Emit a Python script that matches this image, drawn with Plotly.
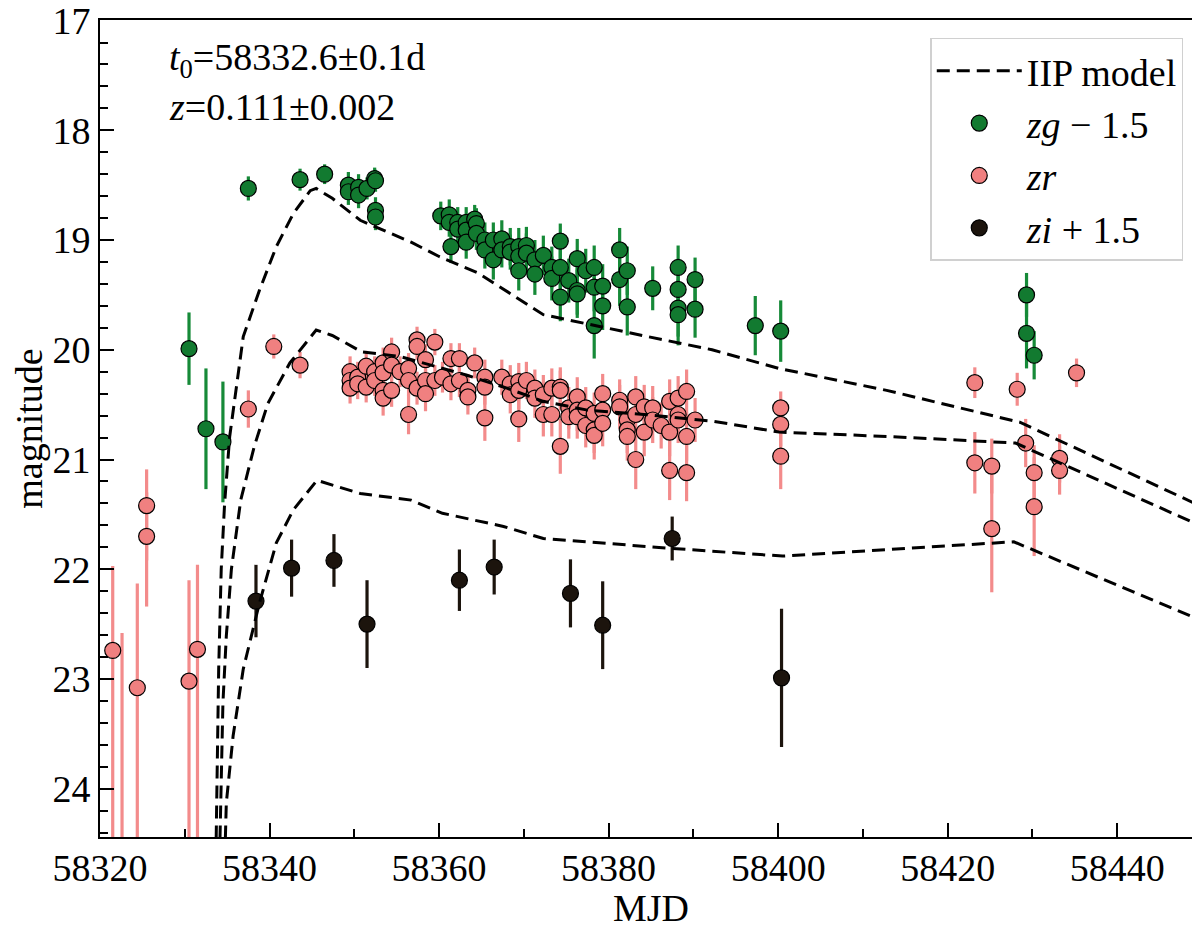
import plotly.graph_objects as go

# IIP model curves (already shifted like the data)
model_g_mjd = [58333.6, 58334.0, 58334.3, 58334.7, 58335.3, 58336.9, 58338.8, 58340.8,
               58342.8, 58344.8, 58345.5, 58347.4, 58350.7, 58356.7, 58360.0, 58364.6,
               58372.3, 58378.3, 58384.6, 58392.2, 58400.1, 58412.8, 58428.5, 58450.0]
model_g_mag = [25.0, 22.91, 22.0, 21.40, 20.79, 19.88, 19.46, 19.06,
               18.76, 18.55, 18.53, 18.62, 18.82, 19.02, 19.15, 19.30,
               19.68, 19.78, 19.88, 20.00, 20.17, 20.37, 20.66, 21.43]

model_r_mjd = [58334.0, 58334.5, 58334.9, 58335.5, 58336.6, 58338.2, 58339.8, 58342.4,
               58345.5, 58347.4, 58350.9, 58355.3, 58363.2, 58368.0, 58372.3, 58377.5,
               58384.2, 58392.2, 58400.1, 58412.8, 58428.0, 58450.0]
model_r_mag = [25.0, 23.22, 22.61, 22.0, 21.37, 20.88, 20.49, 20.12,
               19.82, 19.87, 20.02, 20.06, 20.23, 20.35, 20.47, 20.55,
               20.59, 20.65, 20.75, 20.79, 20.85, 21.61]

model_i_mjd = [58334.6, 58334.9, 58335.7, 58336.9, 58338.8, 58340.8, 58342.8, 58345.6,
               58350.7, 58356.7, 58360.4, 58367.6, 58372.3, 58387.4, 58400.5, 58412.8,
               58427.8, 58450.0]
model_i_mag = [25.0, 24.13, 23.52, 22.91, 22.31, 21.76, 21.46, 21.19,
               21.31, 21.37, 21.49, 21.61, 21.72, 21.81, 21.88, 21.82,
               21.75, 22.47]

# zg - 1.5
g_mjd = [58330.5, 58332.5, 58334.5, 58337.5, 58343.6, 58346.5,
         58349.3, 58349.3, 58350.5, 58350.5, 58351.5, 58352.4, 58352.5, 58352.5, 58352.5,
         58360.2, 58361.2, 58361.2, 58361.4, 58362.2, 58362.2, 58363.2, 58363.2, 58363.2, 58364.2, 58364.4, 58364.4,
         58365.4, 58365.4, 58366.4, 58366.4, 58367.4, 58367.4, 58368.4, 58368.4, 58369.4, 58369.4, 58369.4, 58370.3, 58370.3,
         58371.3, 58371.3, 58372.3, 58373.3, 58373.3, 58374.3, 58374.3, 58374.3, 58375.3, 58376.3, 58376.3, 58376.3, 58377.3,
         58378.3, 58378.3, 58378.3, 58379.3, 58379.3, 58381.3, 58381.3, 58382.2, 58382.2, 58385.2,
         58388.2, 58388.2, 58388.2, 58388.2, 58390.2, 58390.2, 58397.3, 58400.3, 58429.3, 58429.3, 58430.2]
g_mag = [19.99, 20.72, 20.84, 18.53, 18.45, 18.40,
         18.50, 18.56, 18.52, 18.59, 18.53, 18.44, 18.46, 18.73, 18.79,
         18.78, 18.77, 18.84, 19.06, 18.84, 18.90, 18.84, 18.91, 19.02, 18.81, 18.85, 18.94,
         19.00, 19.09, 19.00, 19.18, 18.99, 19.09, 19.06, 19.11, 19.06, 19.15, 19.28, 19.05, 19.12,
         19.18, 19.31, 19.14, 19.25, 19.35, 19.01, 19.25, 19.52, 19.37, 19.17, 19.46, 19.49, 19.28,
         19.25, 19.43, 19.78, 19.42, 19.60, 19.09, 19.36, 19.28, 19.61, 19.44,
         19.25, 19.45, 19.62, 19.68, 19.36, 19.63, 19.78, 19.83, 19.50, 19.85, 20.05]
g_err = [0.33, 0.55, 0.55, 0.11, 0.10, 0.09,
         0.12, 0.12, 0.12, 0.12, 0.10, 0.10, 0.10, 0.12, 0.12,
         0.13, 0.14, 0.13, 0.15, 0.14, 0.13, 0.14, 0.14, 0.15, 0.13, 0.14, 0.15,
         0.16, 0.17, 0.16, 0.18, 0.17, 0.16, 0.17, 0.16, 0.17, 0.17, 0.18, 0.17, 0.18,
         0.18, 0.19, 0.18, 0.19, 0.20, 0.16, 0.20, 0.22, 0.20, 0.18, 0.22, 0.22, 0.20,
         0.20, 0.22, 0.30, 0.20, 0.22, 0.20, 0.24, 0.22, 0.26, 0.20,
         0.20, 0.24, 0.26, 0.28, 0.20, 0.26, 0.27, 0.28, 0.20, 0.32, 0.22]

# zr
r_mjd = [58321.5, 58322.6, 58324.4, 58325.5, 58325.5, 58330.5, 58331.5, 58337.5, 58340.5, 58343.6,
         58349.5, 58349.5, 58349.5, 58350.4, 58350.4, 58351.4, 58351.4, 58352.4, 58352.4,
         58353.4, 58353.4, 58353.4, 58353.4, 58354.4, 58354.4, 58354.4, 58355.4,
         58356.4, 58356.4, 58356.4, 58357.4, 58357.4, 58357.4, 58358.4, 58358.4, 58358.4,
         58359.5, 58359.5, 58360.4, 58361.4, 58361.4, 58362.4, 58362.4, 58363.4, 58363.4, 58364.2,
         58365.4, 58365.4, 58365.4, 58367.4, 58368.4, 58368.4, 58369.4, 58369.4, 58369.4, 58370.3,
         58371.3, 58371.3, 58372.3, 58372.3, 58373.3, 58373.3, 58374.3, 58374.3, 58374.3,
         58375.3, 58375.3, 58376.3, 58376.3, 58376.3, 58377.3, 58377.3, 58378.3, 58378.3, 58378.3,
         58379.3, 58379.3, 58379.3, 58381.3, 58381.3, 58382.2, 58382.2, 58382.2, 58383.2, 58383.2, 58383.2,
         58384.2, 58384.2, 58385.2, 58385.2, 58386.2, 58387.2, 58387.2, 58387.2,
         58388.2, 58388.2, 58388.2, 58389.2, 58389.2, 58389.2, 58390.2,
         58400.3, 58400.3, 58400.3, 58423.2, 58423.2, 58425.2, 58425.2, 58428.2,
         58429.2, 58430.2, 58430.2, 58433.2, 58433.2, 58435.2]
r_mag = [22.74, 24.90, 23.08, 21.42, 21.70, 23.02, 22.73, 20.54, 19.97, 20.14,
         20.20, 20.28, 20.35, 20.25, 20.31, 20.15, 20.34, 20.20, 20.28,
         20.12, 20.21, 20.37, 20.44, 20.02, 20.14, 20.37, 20.20,
         20.17, 20.28, 20.59, 19.91, 19.97, 20.35, 20.09, 20.28, 20.40,
         19.93, 20.28, 20.25, 20.08, 20.31, 20.08, 20.28, 20.37, 20.43, 20.12,
         20.25, 20.34, 20.62, 20.25, 20.31, 20.41, 20.29, 20.37, 20.63, 20.28,
         20.35, 20.44, 20.41, 20.59, 20.35, 20.59, 20.34, 20.37, 20.88,
         20.53, 20.61, 20.43, 20.55, 20.61, 20.53, 20.69, 20.58, 20.73, 20.78,
         20.40, 20.55, 20.67, 20.46, 20.52, 20.64, 20.73, 20.79, 20.43, 20.59, 21.00,
         20.52, 20.75, 20.53, 20.64, 20.69, 20.47, 20.75, 21.10,
         20.44, 20.59, 20.64, 20.38, 20.79, 21.12, 20.64,
         20.53, 20.68, 20.97, 20.30, 21.03, 21.06, 21.63, 20.36,
         20.85, 21.12, 21.43, 20.99, 21.10, 20.21]
# bright-side (up) and faint-side (down) errors
r_err_up = [0.77, 2.32, 0.95, 0.33, 0.40, 0.92, 0.77, 0.17, 0.11, 0.12,
            0.14, 0.14, 0.14, 0.14, 0.14, 0.14, 0.14, 0.14, 0.14,
            0.14, 0.14, 0.15, 0.16, 0.13, 0.14, 0.15, 0.14,
            0.14, 0.14, 0.18, 0.12, 0.12, 0.15, 0.14, 0.14, 0.16,
            0.12, 0.14, 0.14, 0.14, 0.15, 0.14, 0.15, 0.15, 0.16, 0.14,
            0.16, 0.16, 0.21, 0.16, 0.17, 0.17, 0.17, 0.17, 0.21, 0.17,
            0.17, 0.18, 0.18, 0.20, 0.18, 0.20, 0.18, 0.18, 0.25,
            0.19, 0.20, 0.18, 0.19, 0.20, 0.19, 0.20, 0.19, 0.21, 0.22,
            0.18, 0.20, 0.21, 0.19, 0.20, 0.20, 0.21, 0.22, 0.19, 0.20, 0.27,
            0.20, 0.22, 0.20, 0.21, 0.21, 0.20, 0.22, 0.27,
            0.20, 0.21, 0.21, 0.20, 0.22, 0.26, 0.20,
            0.15, 0.20, 0.30, 0.14, 0.28, 0.25, 0.58, 0.15,
            0.22, 0.25, 0.45, 0.22, 0.22, 0.13]
r_err_down = [2.00, 2.00, 2.00, 0.50, 0.64, 2.00, 2.00] + r_err_up[7:]

# zi + 1.5
i_mjd = [58338.4, 58342.6, 58347.6, 58351.5, 58362.4, 58366.5, 58375.5, 58379.3, 58387.5, 58400.4]
i_mag = [22.29, 21.99, 21.92, 22.50, 22.10, 21.98, 22.22, 22.51, 21.72, 22.99]
i_err = [0.33, 0.26, 0.24, 0.40, 0.28, 0.25, 0.31, 0.40, 0.20, 0.63]

FONT = "Liberation Serif"
GREEN = "#127a30"
GREEN_BAR = "#168a38"
PINK = "#f08080"
PINK_BAR = "#f38b8b"
DARK = "#1c140d"


def data_trace(x, y, name, fill, bar, err, err_minus=None):
    error_y = dict(type="data", array=err, color=bar, thickness=3.2, width=0)
    if err_minus is not None:
        error_y["symmetric"] = False
        error_y["arrayminus"] = err_minus
    return go.Scatter(
        x=x, y=y, mode="markers", name=name,
        marker=dict(size=16, color=fill, line=dict(color="black", width=1.2)),
        error_y=error_y,
    )


fig = go.Figure()
fig.add_trace(data_trace(g_mjd, g_mag, "<i>zg</i> − 1.5", GREEN, GREEN_BAR, g_err))
fig.add_trace(data_trace(r_mjd, r_mag, "<i>zr</i>", PINK, PINK_BAR, r_err_down, r_err_up))
fig.add_trace(data_trace(i_mjd, i_mag, "<i>zi</i> + 1.5", DARK, DARK, i_err))

for k, (mx, my) in enumerate([(model_g_mjd, model_g_mag),
                              (model_r_mjd, model_r_mag),
                              (model_i_mjd, model_i_mag)]):
    fig.add_trace(go.Scatter(
        x=mx, y=my, mode="lines", name="IIP model",
        line=dict(color="black", width=3, dash="13px,7px"),
        legendgroup="model", showlegend=(k == 0), legendrank=1,
    ))

for tr in fig.data[:3]:
    tr.legendrank = 2

axis_common = dict(
    showgrid=False, zeroline=False, automargin=False,
    showline=True, linecolor="black", linewidth=2, mirror=True,
    ticks="inside", ticklen=14, tickwidth=2, tickcolor="black",
    tickfont=dict(family=FONT, size=38, color="black"),
    ticklabeloverflow="allow",
)

# the page body adds an 8px offset, so margins are trimmed to land the axes in place
fig.update_layout(
    width=1200, height=932,
    margin=dict(l=92, r=6, t=12, b=103),
    paper_bgcolor="white", plot_bgcolor="white",
    font=dict(family=FONT, size=36, color="black"),
    xaxis=dict(
        range=[58320, 58450], dtick=20, tick0=58320, tickformat="d",
        minor=dict(dtick=10, ticks="inside", ticklen=8, tickwidth=2, tickcolor="black"),
        ticklabelstandoff=-4,
        **axis_common,
    ),
    yaxis=dict(
        range=[24.44, 16.995], dtick=1, tick0=17,
        minor=dict(dtick=0.2, ticks="inside", ticklen=8, tickwidth=2, tickcolor="black"),
        title=dict(text="magnitude", font=dict(family=FONT, size=38), standoff=8),
        **axis_common,
    ),
    legend=dict(
        x=0.983, y=0.978, xanchor="right", yanchor="top",
        bgcolor="rgba(255,255,255,0.85)", bordercolor="#d0d0d0", borderwidth=1.5,
        font=dict(family=FONT, size=38, color="black"),
        tracegroupgap=0, itemwidth=85,
    ),
    annotations=[
        dict(text="<i>t</i><sub>0</sub>=58332.6±0.1d", xref="paper", yref="paper",
             x=0.061, y=0.951, xanchor="left", yanchor="middle", showarrow=False,
             font=dict(family=FONT, size=38)),
        dict(text="<i>z</i>=0.111±0.002", xref="paper", yref="paper",
             x=0.061, y=0.894, xanchor="left", yanchor="middle", showarrow=False,
             font=dict(family=FONT, size=38)),
        dict(text="MJD", xref="paper", yref="paper",
             x=0.5, y=-0.087, xanchor="center", yanchor="middle", showarrow=False,
             font=dict(family=FONT, size=38)),
    ],
)

fig.write_html("out.html")
